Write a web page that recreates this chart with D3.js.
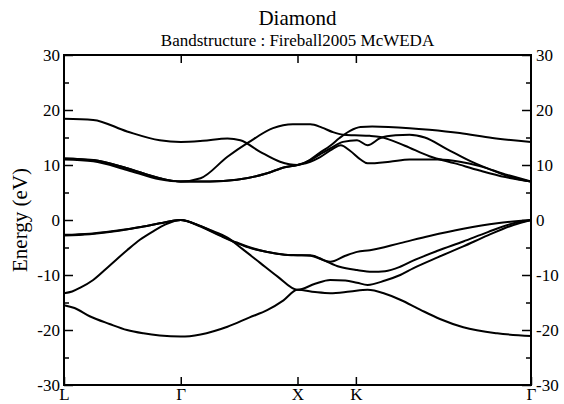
<!DOCTYPE html>
<html>
<head>
<meta charset="utf-8">
<script src="https://cdn.jsdelivr.net/npm/d3@7"></script>
<style>
  body { margin: 0; background: #fff; }
  text { fill: #000; }
</style>
</head>
<body>
<svg id="paper"></svg>
<script>
// high symmetry points along the path L - Gamma - X - K - Gamma
let kTicks = [0, 1, 2, 2.5, 4];
let kLabels = ["L", "Γ", "X", "K", "Γ"];
let eMajor = [-30, -20, -10, 0, 10, 20, 30];
let eMinor = [-25, -15, -5, 5, 15, 25];

// bands, [k, energy in eV]
let band1 = [[0,-15.5],[0.09,-16.0],[0.22,-17.5],[0.39,-18.9],[0.54,-20.0],[0.68,-20.6],[0.82,-21.0],[1.0,-21.2],
    [1.17,-20.8],[1.40,-19.4],[1.59,-17.7],[1.74,-16.4],[1.88,-14.6],[2.0,-12.7],[2.15,-13.1],[2.28,-13.3],
    [2.45,-13.0],[2.60,-12.7],[2.75,-13.4],[2.88,-14.5],[3.05,-16.3],[3.22,-18.0],[3.42,-19.5],[3.71,-20.6],[4.0,-21.1]];
let band2 = [[0,-13.3],[0.07,-13.0],[0.14,-12.3],[0.25,-10.9],[0.39,-8.3],[0.54,-5.5],[0.65,-3.6],[0.76,-2.1],
    [0.87,-0.8],[1.0,0],[1.12,-0.7],[1.25,-1.8],[1.40,-3.2],[1.53,-5.3],[1.68,-7.8],[1.83,-10.3],[2.0,-12.7],
    [2.15,-11.6],[2.28,-10.9],[2.41,-11.0],[2.51,-11.4],[2.60,-11.8],[2.75,-11.0],[2.88,-10.0],[2.99,-8.8],
    [3.20,-6.8],[3.42,-4.8],[3.63,-2.8],[3.85,-0.9],[4.0,0]];
let band3 = [[0,-2.7],[0.22,-2.5],[0.39,-2.1],[0.57,-1.6],[0.68,-1.2],[0.82,-0.6],[1.0,0],[1.17,-1.2],[1.34,-2.9],
    [1.48,-4.2],[1.61,-5.2],[1.74,-5.8],[1.89,-6.3],[2.0,-6.4],[2.11,-6.5],[2.21,-7.2],[2.36,-8.5],[2.51,-9.1],
    [2.64,-9.4],[2.75,-9.3],[2.88,-8.5],[2.99,-7.4],[3.20,-5.6],[3.42,-3.9],[3.63,-2.2],[3.85,-0.6],[4.0,0]];
let band4 = [[0,-2.8],[0.22,-2.6],[0.39,-2.2],[0.57,-1.6],[0.68,-1.2],[0.82,-0.6],[1.0,0],[1.17,-1.1],[1.34,-2.8],
    [1.48,-4.1],[1.61,-5.1],[1.74,-5.8],[1.89,-6.3],[2.0,-6.4],[2.11,-6.4],[2.28,-7.6],[2.41,-6.5],[2.51,-5.8],
    [2.62,-5.5],[2.88,-4.2],[3.13,-2.9],[3.42,-1.6],[3.71,-0.6],[4.0,0]];
let band5 = [[0,11.2],[0.25,10.9],[0.54,9.4],[0.82,7.6],[1.0,7.0],[1.25,7.0],[1.48,7.3],[1.74,8.5],[1.89,9.6],
    [2.0,10.0],[2.11,10.6],[2.19,11.4],[2.30,12.9],[2.37,13.6],[2.45,12.6],[2.54,11.0],[2.60,10.3],[2.79,10.6],
    [2.96,11.0],[3.22,11.0],[3.39,10.6],[3.56,9.8],[3.78,8.3],[4.0,7.0]];
let band6 = [[0,11.0],[0.25,10.7],[0.54,9.1],[0.82,7.4],[1.0,7.0],[1.25,7.0],[1.48,7.3],[1.74,8.5],[1.89,9.6],
    [2.0,10.0],[2.11,10.9],[2.19,11.9],[2.28,13.0],[2.39,14.2],[2.51,14.5],[2.60,13.6],[2.71,14.9],[2.84,15.4],
    [2.96,15.5],[3.09,15.0],[3.28,12.9],[3.49,10.6],[3.71,8.7],[3.86,7.6],[4.0,7.0]];
let band7 = [[0,11.2],[0.25,10.9],[0.54,9.4],[0.82,7.6],[1.0,7.0],[1.17,7.6],[1.40,11.5],[1.58,14.1],[1.79,16.7],
    [1.96,17.4],[2.11,17.4],[2.21,16.8],[2.30,16.0],[2.39,15.5],[2.49,15.4],[2.62,15.3],[2.71,15.1],[2.92,13.5],
    [3.13,11.6],[3.35,10.3],[3.56,9.0],[3.78,7.8],[4.0,7.0]];
let band8 = [[0,18.4],[0.25,18.2],[0.54,16.1],[0.82,14.5],[1.0,14.2],[1.19,14.4],[1.40,14.8],[1.51,14.5],[1.68,12.4],
    [1.85,10.6],[2.0,10.0],[2.11,11.0],[2.19,12.2],[2.28,13.5],[2.36,14.9],[2.45,16.2],[2.54,16.9],[2.64,17.0],
    [2.96,16.7],[3.13,16.4],[3.39,15.8],[3.67,14.9],[4.0,14.2]];
let bands = [band1, band2, band3, band4, band5, band6, band7, band8];

let serif = "Liberation Serif, Times New Roman, serif";
let margin = {top: 55, right: 33, bottom: 19, left: 64},
    width = 564 - margin.left - margin.right,
    height = 404 - margin.top - margin.bottom;

let svg = d3.select("#paper")
        .attr("width", 564)
        .attr("height", 404)
        .attr("font-family", serif),
    g = svg.append("g")
        .attr("transform", "translate(" + margin.left + "," + margin.top + ")");

let x = d3.scaleLinear().domain([0, 4]).range([0, width]);
let y = d3.scaleLinear().domain([-30, 30]).range([height, 0]);

let line = d3.line()
    .x(d => x(d[0]))
    .y(d => y(d[1]))
    .curve(d3.curveMonotoneX);

g.selectAll(".band")
    .data(bands)
    .enter()
    .append("path")
    .classed("band", true)
    .attr("d", line)
    .attr("fill", "none")
    .attr("stroke", "#000")
    .attr("stroke-width", 2);

// axes, ticks pointing inwards like xmgrace
function styleAxis(sel) {
    sel.attr("font-family", serif).attr("font-size", 17);
    sel.select(".domain").remove();
    sel.selectAll("line").attr("stroke", "#000").attr("stroke-width", 1.5);
}

g.append("g")
    .call(d3.axisLeft(y).tickValues(eMajor).tickSize(-9).tickPadding(4).tickFormat(d => String(d)))
    .call(styleAxis);
g.append("g")
    .call(d3.axisLeft(y).tickValues(eMinor).tickSize(-5).tickFormat(""))
    .call(styleAxis);
g.append("g")
    .attr("transform", "translate(" + width + ",0)")
    .call(d3.axisRight(y).tickValues(eMajor).tickSize(-9).tickPadding(5).tickFormat(d => String(d)))
    .call(styleAxis);
g.append("g")
    .attr("transform", "translate(" + width + ",0)")
    .call(d3.axisRight(y).tickValues(eMinor).tickSize(-5).tickFormat(""))
    .call(styleAxis);
g.append("g")
    .attr("transform", "translate(0," + height + ")")
    .call(d3.axisBottom(x).tickValues(kTicks).tickSize(-8).tickPadding(3)
        .tickFormat((d, i) => kLabels[i]))
    .call(styleAxis);
g.append("g")
    .call(d3.axisTop(x).tickValues(kTicks.slice(1, 4)).tickSize(-8).tickFormat(""))
    .call(styleAxis);

g.append("rect")
    .attr("width", width)
    .attr("height", height)
    .attr("fill", "none")
    .attr("stroke", "#000")
    .attr("stroke-width", 2);

svg.append("text")
    .attr("x", margin.left + width / 2)
    .attr("y", 25)
    .style("text-anchor", "middle")
    .style("font-size", "21px")
    .text("Diamond");
svg.append("text")
    .attr("x", margin.left + width / 2)
    .attr("y", 46)
    .style("text-anchor", "middle")
    .style("font-size", "17px")
    .text("Bandstructure : Fireball2005 McWEDA");
svg.append("text")
    .attr("transform", "translate(27," + (margin.top + height / 2) + ") rotate(-90)")
    .style("text-anchor", "middle")
    .style("font-size", "21px")
    .text("Energy (eV)");
</script>
</body>
</html>
